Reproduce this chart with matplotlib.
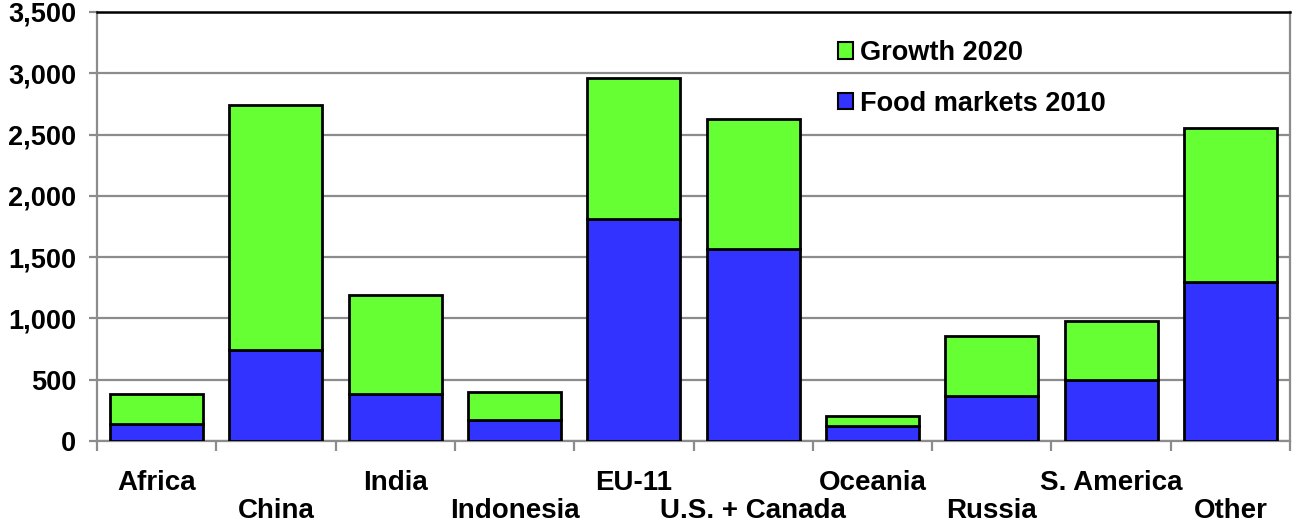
import matplotlib
matplotlib.use("Agg")
from matplotlib import pyplot as plt
from matplotlib.patches import Patch
import numpy as np

regions = ["Africa", "China", "India", "Indonesia", "EU-11",
           "U.S. + Canada", "Oceania", "Russia", "S. America", "Other"]
food_2010 = [140, 745, 380, 170, 1810, 1570, 125, 370, 500, 1295]
total_2020 = [385, 2740, 1190, 400, 2960, 2630, 205, 855, 980, 2555]
growth_2020 = [t - f for t, f in zip(total_2020, food_2010)]

yticks = [0, 500, 1000, 1500, 2000, 2500, 3000, 3500]

plt.rcParams['font.family'] = ['Liberation Sans', 'DejaVu Sans']
plt.rcParams['font.weight'] = 'bold'

blue = '#3333ff'
green = '#66ff33'
grid_col = '#8c8c8c'

fig = plt.figure(figsize=(12.93, 5.24), dpi=100)
ax = fig.add_axes([97 / 1293, (524 - 441) / 524, 1193 / 1293, 429 / 524])

x = np.arange(len(regions))
ax.bar(x, food_2010, width=0.78, color=blue, edgecolor='black', linewidth=2, zorder=3)
ax.bar(x, growth_2020, width=0.78, bottom=food_2010, color=green,
       edgecolor='black', linewidth=2, zorder=3)

ax.set_xlim(-0.5, len(regions) - 0.5)
ax.set_ylim(0, 3500)
ax.set_yticks(yticks)
ax.set_yticklabels([f"{v:,}" for v in yticks], fontsize=19.5, fontweight='bold')
ax.yaxis.grid(True, color=grid_col, linewidth=1.6, zorder=0)
ax.tick_params(axis='y', length=6, width=1.6, color=grid_col, pad=9)

# category boundary ticks, labels staggered on two rows
ax.set_xticks(np.arange(len(regions) + 1) - 0.5)
ax.set_xticklabels([])
ax.tick_params(axis='x', length=7, width=1.6, color=grid_col)
for i, name in enumerate(regions):
    yoff = -0.097 if i % 2 == 0 else -0.163
    ax.text(i, yoff, name, transform=ax.get_xaxis_transform(), ha='center',
            va='center', fontsize=20, fontweight='bold')

for side in ['left', 'bottom', 'right']:
    ax.spines[side].set_color(grid_col)
    ax.spines[side].set_linewidth(1.6)
ax.spines['top'].set_color('black')
ax.spines['top'].set_linewidth(1.8)

handles = [Patch(facecolor=green, edgecolor='black', linewidth=1.5),
           Patch(facecolor=blue, edgecolor='black', linewidth=1.5)]
leg = ax.legend(handles, ["Growth 2020", "Food markets 2010"], loc='upper left',
                bbox_to_anchor=(0.601, 0.991), frameon=False,
                handlelength=0.55, handleheight=0.55, handletextpad=0.25,
                labelspacing=0.9, prop={'weight': 'bold', 'size': 19.5})

fig.savefig("out.png", dpi=100)
